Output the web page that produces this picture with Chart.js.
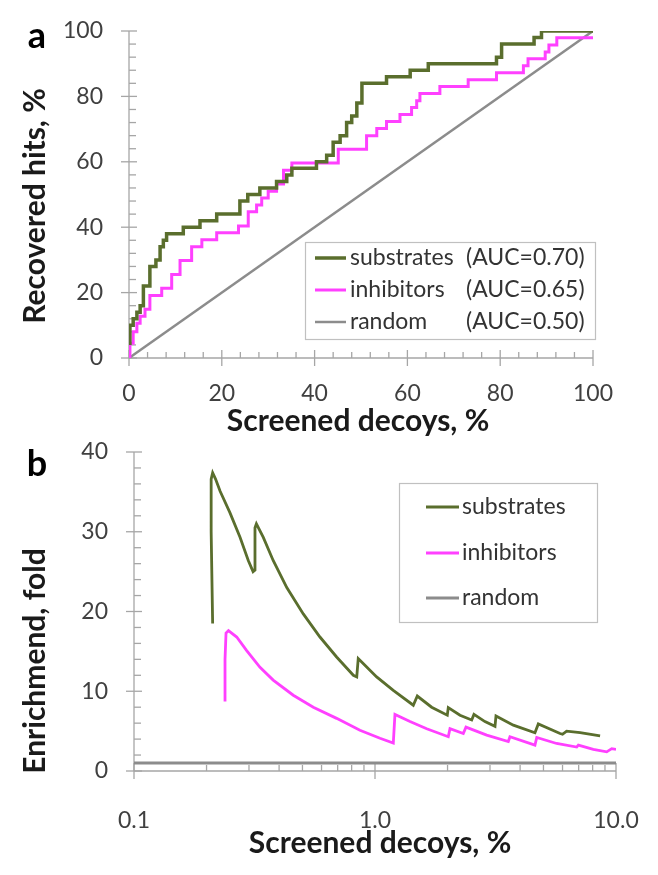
<!DOCTYPE html>
<html><head><meta charset="utf-8">
<script src="https://cdn.jsdelivr.net/npm/chart.js@4.4.1/dist/chart.umd.min.js"></script>
<style>
html,body{margin:0;padding:0;background:#fff;}
#wrapA{position:absolute;left:0;top:0;width:658px;height:440px;}
#wrapB{position:absolute;left:0;top:440px;width:658px;height:435px;}
canvas{display:block;}
</style></head><body>
<div id="wrapA"><canvas id="cA" width="658" height="440"></canvas></div>
<div id="wrapB"><canvas id="cB" width="658" height="435"></canvas></div>
<script>
// ---------- Panel a data (ROC-like curves) ----------
const rocXTicks = [0, 20, 40, 60, 80, 100];
const rocYTicks = [0, 20, 40, 60, 80, 100];
const rocSeriesNames = ['substrates', 'inhibitors', 'random'];
const rocAUC = ['(AUC=0.70)', '(AUC=0.65)', '(AUC=0.50)'];
// [screened decoys %, recovered hits %] — value jumps at given x
const rocSubstrates = [[0.2,4],[0.2,10],[0.9,12],[1.7,14],[2.4,16],[3.1,22],[4.5,28],[5.8,30],[6.7,34],[7.4,36],[8.1,38],[11.7,40],[15.3,42],[18.9,44],[23.9,48],[25.6,50],[28.2,52],[31.8,54],[34,56],[35.1,58],[40.4,60],[42.6,62],[44,66],[45.5,68],[46.9,72],[48,74],[49.1,78],[50.2,84],[55.5,86],[60.6,88],[64.5,90],[79.2,92],[80.3,96],[87.3,98],[88.9,100],[100,100]];
const rocInhibitors = [[0.2,0],[0.2,4.5],[0.9,8],[1.7,10.6],[2.4,12.8],[3.45,14.9],[4.5,19.1],[7.05,21.3],[9.2,25.5],[11,29.8],[13.5,34],[15.7,36.2],[18.9,38.3],[23.6,40.4],[25.7,44.7],[27.5,46.8],[28.6,48.9],[30,51],[31.8,53.2],[33.3,57.4],[35.1,59.6],[45.1,63.8],[51.2,68],[53.4,70.2],[55.5,72.3],[58.4,74.5],[60.9,76.6],[62,78.7],[62.7,80.9],[67,83],[73.1,85.1],[79.2,87.2],[85,89.4],[86,91.5],[89.7,93.6],[90.5,95.7],[92.2,97.9],[100,97.9]];
const rocRandom = [[0,0],[100,100]];

// ---------- Panel b data (enrichment) ----------
const enrXTicks = [0.1, 1, 10];
const enrXMinorTicks = [0.2,0.3,0.4,0.5,0.6,0.7,0.8,0.9,2,3,4,5,6,7,8,9];
const enrYTicks = [0, 10, 20, 30, 40];
const enrSeriesNames = ['substrates', 'inhibitors', 'random'];
const enrSubstrates = [[0.212,18.5],[0.209,30],[0.209,36.6],[0.212,37.4],[0.218,36.6],[0.2275,35.1],[0.250,32.4],[0.2754,29.3],[0.298,26.4],[0.312,25.0],[0.3177,25.2],[0.3177,30.5],[0.322,31.0],[0.344,29.3],[0.378,26.4],[0.4305,23.0],[0.504,19.7],[0.591,16.8],[0.693,14.3],[0.813,12.0],[0.840,11.8],[0.852,14.1],[0.866,13.9],[1.016,11.8],[1.191,10.1],[1.442,8.25],[1.498,9.4],[1.718,8.0],[1.995,7.0],[2.014,7.96],[2.253,7.0],[2.519,6.4],[2.574,7.1],[2.859,6.2],[3.147,5.6],[3.177,6.9],[3.75,5.75],[4.61,4.8],[4.76,5.9],[5.86,4.7],[6.0,4.6],[6.24,5.0],[7.10,4.8],[8.59,4.4]];
const enrInhibitors = [[0.2386,8.7],[0.2386,14],[0.2409,17.3],[0.2466,17.6],[0.2668,16.8],[0.2935,15.1],[0.3333,13.0],[0.378,11.4],[0.458,9.5],[0.5546,8.0],[0.693,6.6],[0.866,5.1],[1.049,4.1],[1.191,3.5],[1.21,7.1],[1.397,6.2],[1.639,5.3],[2.014,4.3],[2.047,5.3],[2.325,4.7],[2.385,5.5],[2.907,4.5],[3.574,3.7],[3.63,4.3],[4.61,3.25],[4.69,4.2],[5.67,3.45],[6.87,3.0],[6.98,3.25],[8.05,2.7],[9.15,2.4],[9.6,2.8],[10,2.7]];
const enrRandom = [[0.1,1],[10,1]];

// ---------- styling ----------
const GREEN = '#5a6e2d', PINK = '#ff40ff', GRAY = '#8c8c8c';
const AXIS = '#a6a6a6', TICKTXT = '#404040', TITLE = '#1a1a1a';
const FONT = 'Lato, "Open Sans", sans-serif';
const toXY = a => a.map(([x, y]) => ({x, y}));
const range = (a, b, s) => { const r = []; for (let v = a; v <= b + 1e-9; v += s) r.push(+v.toFixed(6)); return r; };

function line(ctx, x1, y1, x2, y2) { ctx.beginPath(); ctx.moveTo(x1, y1); ctx.lineTo(x2, y2); ctx.stroke(); }

function decoPlugin(cfg) {
  return {
    id: 'deco',
    beforeDatasetsDraw(chart) {
      const ctx = chart.ctx, xs = chart.scales.x, ys = chart.scales.y, ca = chart.chartArea;
      ctx.save();
      ctx.strokeStyle = AXIS; ctx.lineWidth = 1.3;
      line(ctx, ca.left, ca.top, ca.left, ca.bottom);
      line(ctx, ca.left, ca.bottom, ca.right, ca.bottom);
      cfg.yMajor.forEach(v => { const p = ys.getPixelForValue(v); line(ctx, ca.left - 8, p, ca.left + 8, p); });
      cfg.yMinor.forEach(v => { const p = ys.getPixelForValue(v); line(ctx, ca.left, p, ca.left + 7, p); });
      cfg.xMajor.forEach(v => { const p = xs.getPixelForValue(v); line(ctx, p, ca.bottom - 8, p, ca.bottom + 8); });
      cfg.xMinor.forEach(v => { const p = xs.getPixelForValue(v); line(ctx, p, ca.bottom - 6, p, ca.bottom); });
      ctx.restore();
    },
    afterDraw(chart) {
      const ctx = chart.ctx;
      ctx.save();
      // panel letter
      ctx.fillStyle = '#000';
      ctx.font = 'bold 36px ' + FONT;
      ctx.textAlign = 'center'; ctx.textBaseline = 'middle';
      ctx.fillText(cfg.letter, cfg.letterPos[0], cfg.letterPos[1]);
      // axis titles
      ctx.fillStyle = TITLE;
      ctx.font = 'bold 30px ' + FONT;
      ctx.fillText(cfg.xTitle, cfg.xTitlePos[0], cfg.xTitlePos[1]);
      ctx.save();
      ctx.translate(cfg.yTitlePos[0], cfg.yTitlePos[1]);
      ctx.rotate(-Math.PI / 2);
      ctx.fillText(cfg.yTitle, 0, 0);
      ctx.restore();
      // legend
      const L = cfg.legend;
      ctx.fillStyle = '#fff';
      ctx.fillRect(L.box[0], L.box[1], L.box[2], L.box[3]);
      ctx.strokeStyle = '#c0c0c0'; ctx.lineWidth = 1.2;
      ctx.strokeRect(L.box[0] + 0.5, L.box[1] + 0.5, L.box[2], L.box[3]);
      const ds = chart.data.datasets;
      L.rows.forEach((ry, i) => {
        ctx.strokeStyle = ds[i].borderColor; ctx.lineWidth = ds[i].borderWidth;
        line(ctx, L.lineX[0], ry, L.lineX[1], ry);
        ctx.fillStyle = '#333';
        ctx.font = L.font;
        ctx.textAlign = 'left'; ctx.textBaseline = 'middle';
        ctx.fillText(ds[i].label, L.textX, ry);
        if (L.extra) ctx.fillText(L.extra[i], L.extraX, ry);
      });
      ctx.restore();
    }
  };
}

const tickFont = {family: FONT, size: 23, lineHeight: 1};
const hideGrid = len => ({display: false, drawTicks: true, tickLength: len});

// ---------- Chart a ----------
new Chart(document.getElementById('cA'), {
  type: 'line',
  data: {
    datasets: [
      {label: rocSeriesNames[0], data: toXY(rocSubstrates), borderColor: GREEN, borderWidth: 3.5, stepped: 'before', pointRadius: 0, fill: false},
      {label: rocSeriesNames[1], data: toXY(rocInhibitors), borderColor: PINK, borderWidth: 3, stepped: 'before', pointRadius: 0, fill: false},
      {label: rocSeriesNames[2], data: toXY(rocRandom), borderColor: GRAY, borderWidth: 2.5, pointRadius: 0, fill: false}
    ]
  },
  options: {
    responsive: false, animation: false, devicePixelRatio: 1,
    layout: {padding: {left: 0, right: 65, top: 31, bottom: 0}},
    plugins: {legend: {display: false}, tooltip: {enabled: false}},
    scales: {
      x: {type: 'linear', min: 0, max: 100,
          grid: hideGrid(24), border: {display: false},
          ticks: {font: tickFont, color: TICKTXT, padding: 0, maxRotation: 0},
          afterBuildTicks: s => { s.ticks = rocXTicks.map(v => ({value: v})); },
          afterFit: s => { s.height = 82; }},
      y: {type: 'linear', min: 0, max: 100,
          grid: hideGrid(26), border: {display: false},
          ticks: {font: tickFont, color: TICKTXT, padding: 0},
          afterBuildTicks: s => { s.ticks = rocYTicks.map(v => ({value: v})); },
          afterFit: s => { s.width = 129; }}
    }
  },
  plugins: [decoPlugin({
    letter: 'a', letterPos: [37, 36],
    xTitle: 'Screened decoys, %', xTitlePos: [358, 421],
    yTitle: 'Recovered hits, %', yTitlePos: [35, 206],
    yMajor: rocYTicks, yMinor: range(0, 100, 4).filter(v => v % 20 !== 0),
    xMajor: rocXTicks, xMinor: range(0, 100, 4).filter(v => v % 20 !== 0),
    legend: {box: [305, 242, 290, 97], lineX: [315, 346], rows: [258, 290, 322], textX: 350,
             extra: rocAUC, extraX: 466, font: '23px ' + FONT}
  })]
});

// ---------- Chart b ----------
new Chart(document.getElementById('cB'), {
  type: 'line',
  data: {
    datasets: [
      {label: enrSeriesNames[0], data: toXY(enrSubstrates), borderColor: GREEN, borderWidth: 2.8, pointRadius: 0, fill: false, tension: 0},
      {label: enrSeriesNames[1], data: toXY(enrInhibitors), borderColor: PINK, borderWidth: 2.8, pointRadius: 0, fill: false, tension: 0},
      {label: enrSeriesNames[2], data: toXY(enrRandom), borderColor: GRAY, borderWidth: 3, pointRadius: 0, fill: false}
    ]
  },
  options: {
    responsive: false, animation: false, devicePixelRatio: 1,
    layout: {padding: {left: 0, right: 42, top: 12, bottom: 0}},
    plugins: {legend: {display: false}, tooltip: {enabled: false}},
    scales: {
      x: {type: 'logarithmic', min: 0.1, max: 10,
          grid: hideGrid(38), border: {display: false},
          ticks: {font: tickFont, color: TICKTXT, padding: 0, maxRotation: 0, autoSkip: false,
                  callback: v => Number(v).toFixed(1)},
          afterBuildTicks: s => { s.ticks = enrXTicks.map(v => ({value: v})); },
          afterFit: s => { s.height = 104; }},
      y: {type: 'linear', min: 0, max: 40,
          grid: hideGrid(26), border: {display: false},
          ticks: {font: tickFont, color: TICKTXT, padding: 0},
          afterBuildTicks: s => { s.ticks = enrYTicks.map(v => ({value: v})); },
          afterFit: s => { s.width = 134; }}
    }
  },
  plugins: [decoPlugin({
    letter: 'b', letterPos: [37, 24],
    xTitle: 'Screened decoys, %', xTitlePos: [380, 403],
    yTitle: 'Enrichmend, fold', yTitlePos: [35, 221],
    yMajor: enrYTicks, yMinor: range(0, 40, 2).filter(v => v % 10 !== 0),
    xMajor: enrXTicks, xMinor: enrXMinorTicks,
    legend: {box: [399, 43, 198, 139], lineX: [426, 459], rows: [67, 113, 158], textX: 462,
             font: '23px ' + FONT}
  })]
});
</script>
</body></html>
